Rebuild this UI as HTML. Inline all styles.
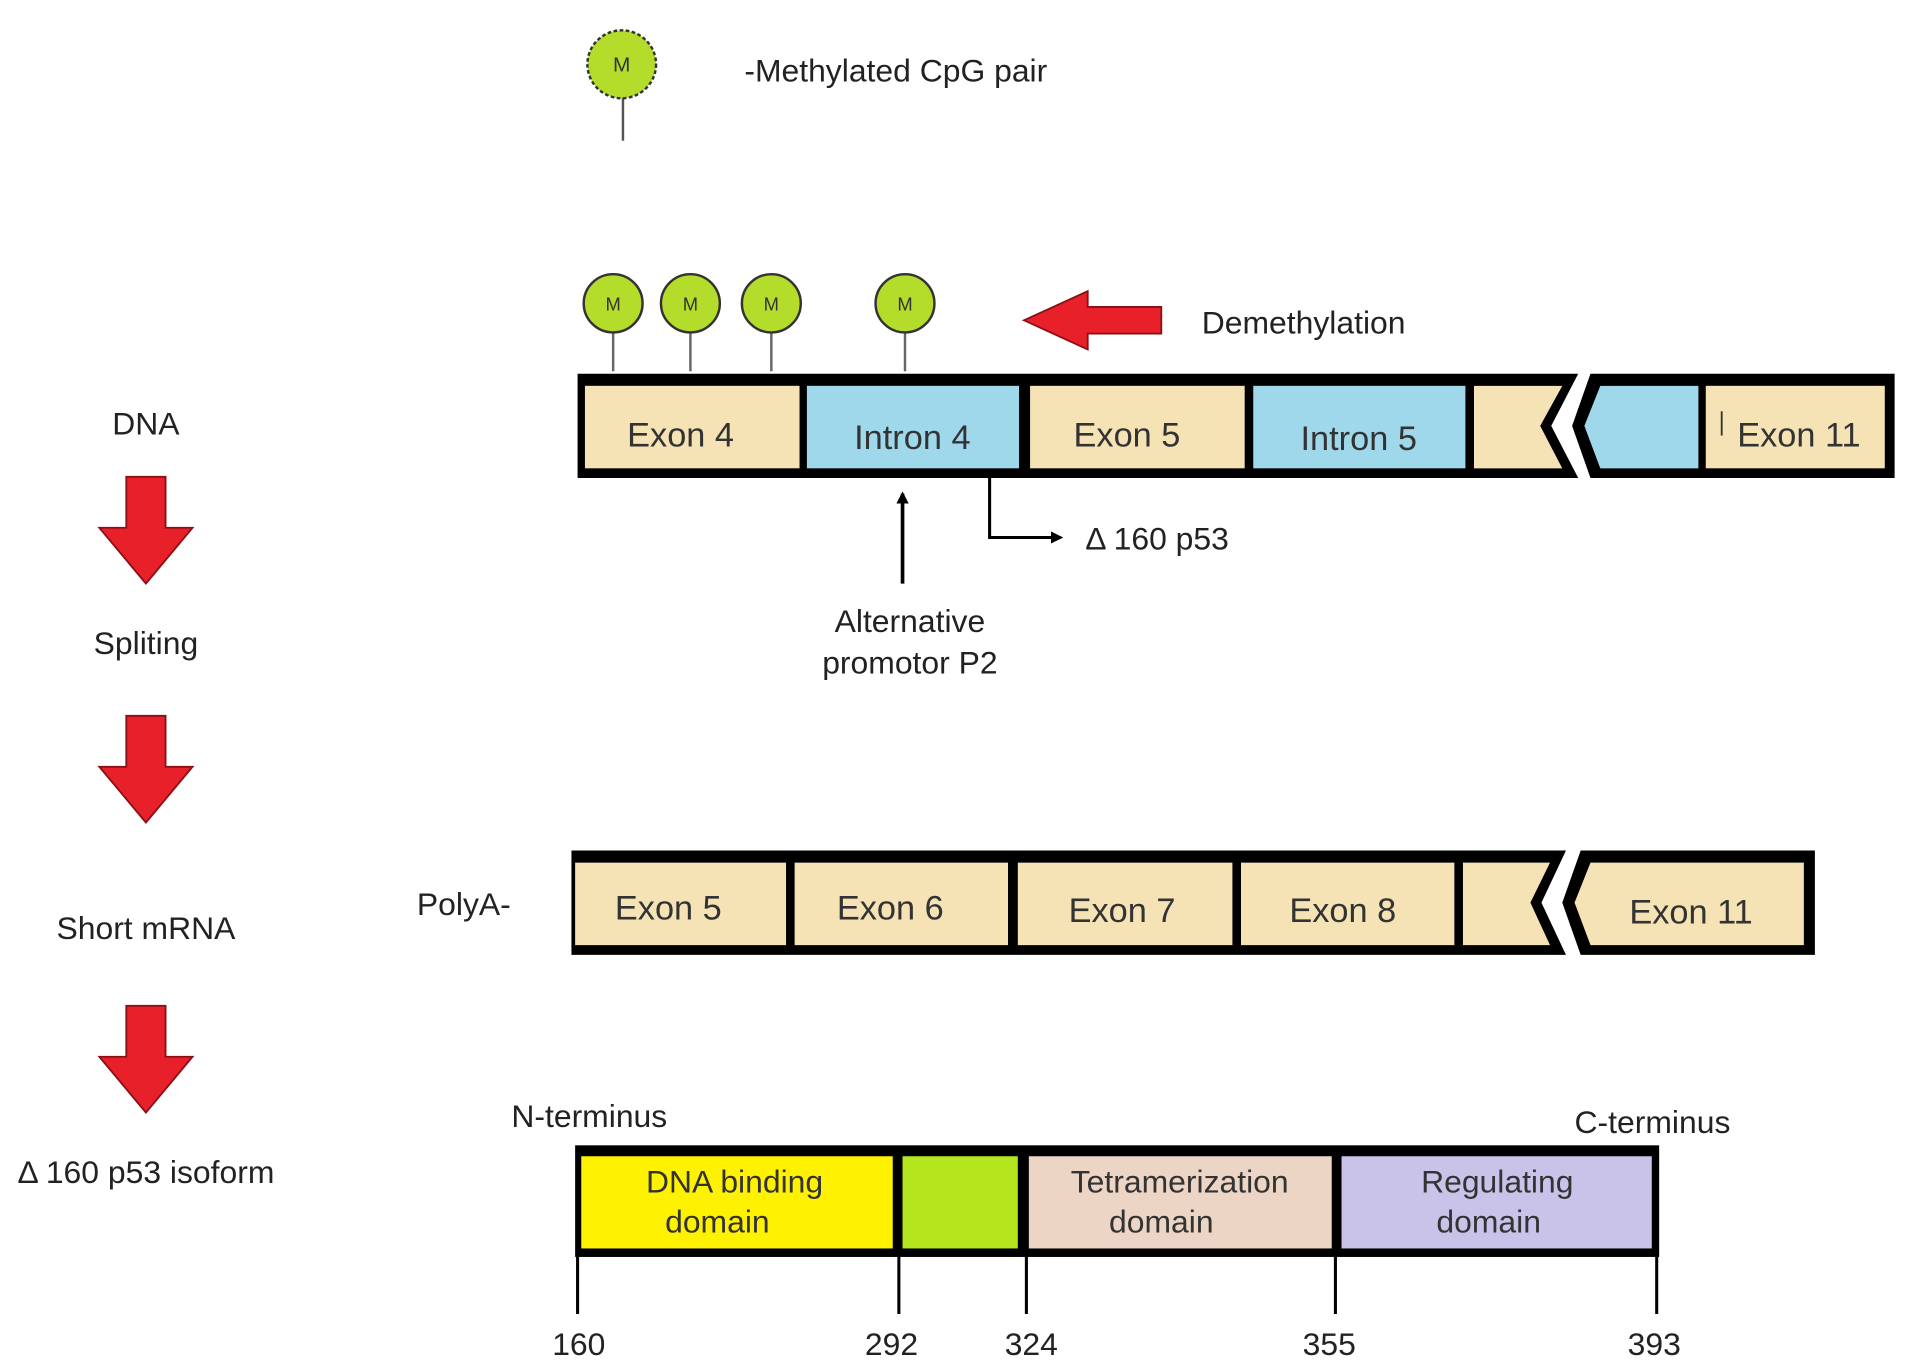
<!DOCTYPE html>
<html><head><meta charset="utf-8"><style>
html,body{margin:0;padding:0;background:#fff;}
svg{display:block;}
text{font-family:"Liberation Sans",sans-serif;}
</style></head><body>
<svg width="1913" height="1371" viewBox="0 0 1560 1130" preserveAspectRatio="none" xmlns="http://www.w3.org/2000/svg">
<defs>
<marker id="ah" markerWidth="10" markerHeight="10" refX="8" refY="5" orient="auto" markerUnits="userSpaceOnUse"><path d="M0,0 L10,5 L0,10 Z" fill="#000"/></marker>
<g id="dn"><path d="M-16,0 H16 V42 H38 L0,88 L-38,42 H-16 Z" fill="#e8202a" stroke="#8a1015" stroke-width="1.5"/></g>
</defs>
<g transform="translate(-3,3)">
<!-- legend -->
<line x1="511" y1="70" x2="511" y2="113" stroke="#555" stroke-width="2"/>
<circle cx="510" cy="50" r="28" fill="#b3dd2a" stroke="#333" stroke-width="2" stroke-dasharray="3 2"/>
<text x="510" y="56" font-size="17" text-anchor="middle" fill="#333">M</text>
<text x="610" y="64" font-size="26" fill="#222">-Methylated CpG pair</text>
<!-- M circles -->
<g stroke="#666" stroke-width="2"><line x1="503" y1="270" x2="503" y2="303"/><line x1="566" y1="270" x2="566" y2="303"/><line x1="632" y1="270" x2="632" y2="303"/><line x1="741" y1="270" x2="741" y2="303"/></g>
<g fill="#b3dd2a" stroke="#333" stroke-width="2"><circle cx="503" cy="247" r="24"/><circle cx="566" cy="247" r="24"/><circle cx="632" cy="247" r="24"/><circle cx="741" cy="247" r="24"/></g>
<g font-size="15" text-anchor="middle" fill="#333"><text x="503" y="253">M</text><text x="566" y="253">M</text><text x="632" y="253">M</text><text x="741" y="253">M</text></g>
<path d="M838,261 L890,237 V250 H950 V272 H890 V285 Z" fill="#e8202a" stroke="#8a1015" stroke-width="1.5"/>
<text x="983" y="272" font-size="26" fill="#222">Demethylation</text>
<!-- DNA bar -->
<path d="M474,305 H1290 L1268,348 L1290,391 H474 Z" fill="#000"/>
<path d="M1300,305 H1548 V391 H1300 L1285,348 Z" fill="#000"/>
<rect x="480" y="315" width="175" height="68" fill="#f5e3b5"/>
<rect x="661" y="315" width="173" height="68" fill="#9fd8ea"/>
<rect x="843" y="315" width="175" height="68" fill="#f5e3b5"/>
<rect x="1025" y="315" width="173" height="68" fill="#9fd8ea"/>
<path d="M1205,315 H1277 L1259,348 L1277,383 H1205 Z" fill="#f5e3b5"/>
<path d="M1308,315 H1388 V383 H1308 L1295,348 Z" fill="#9fd8ea"/>
<rect x="1394" y="315" width="146" height="68" fill="#f5e3b5"/>
<line x1="1407" y1="336" x2="1407" y2="356" stroke="#333" stroke-width="1.5"/>
<g font-size="28" text-anchor="middle" fill="#333">
<text x="558" y="365">Exon 4</text><text x="747" y="367">Intron 4</text><text x="922" y="365">Exon 5</text><text x="1111" y="368">Intron 5</text><text x="1470" y="365">Exon 11</text></g>
<!-- arrows under -->
<line x1="739" y1="478" x2="739" y2="404" stroke="#000" stroke-width="3" marker-end="url(#ah)"/>
<path d="M810,391 V440 H868" fill="none" stroke="#000" stroke-width="2.5" marker-end="url(#ah)"/>
<text x="888" y="450" font-size="26" fill="#222">Δ 160 p53</text>
<text x="745" y="518" font-size="26" text-anchor="middle" fill="#222">Alternative</text>
<text x="745" y="552" font-size="26" text-anchor="middle" fill="#222">promotor P2</text>
<!-- left column -->
<g font-size="26" text-anchor="middle" fill="#222">
<text x="122" y="355">DNA</text><text x="122" y="536">Spliting</text><text x="122" y="771">Short mRNA</text><text x="122" y="972">Δ 160 p53 isoform</text></g>
<use href="#dn" x="122" y="390"/><use href="#dn" x="122" y="587"/><use href="#dn" x="122" y="826"/>
<!-- mRNA -->
<text x="343" y="751" font-size="26" fill="#222">PolyA-</text>
<path d="M469,698 H1280 L1260,741 L1280,784 H469 Z" fill="#000"/>
<path d="M1292,698 H1483 V784 H1292 L1277,741 Z" fill="#000"/>
<rect x="472" y="708" width="172" height="68" fill="#f5e3b5"/>
<rect x="651" y="708" width="174" height="68" fill="#f5e3b5"/>
<rect x="833" y="708" width="175" height="68" fill="#f5e3b5"/>
<rect x="1015" y="708" width="174" height="68" fill="#f5e3b5"/>
<path d="M1196,708 H1267 L1251,741 L1267,776 H1196 Z" fill="#f5e3b5"/>
<path d="M1300,708 H1474 V776 H1300 L1287,741 Z" fill="#f5e3b5"/>
<g font-size="28" text-anchor="middle" fill="#333">
<text x="548" y="755">Exon 5</text><text x="729" y="755">Exon 6</text><text x="918" y="757">Exon 7</text><text x="1098" y="757">Exon 8</text><text x="1382" y="758">Exon 11</text></g>
<!-- protein -->
<text x="420" y="926" font-size="26" fill="#222">N-terminus</text>
<text x="1287" y="931" font-size="26" fill="#222">C-terminus</text>
<rect x="472" y="941" width="884" height="92" fill="#000"/>
<rect x="477" y="950" width="254" height="76" fill="#fff200"/>
<rect x="739" y="950" width="94" height="76" fill="#b5e61d"/>
<rect x="842" y="950" width="247" height="76" fill="#ecd5c5"/>
<rect x="1097" y="950" width="253" height="76" fill="#c9c3ea"/>
<g font-size="26" text-anchor="middle" fill="#333">
<text x="602" y="980">DNA binding</text><text x="588" y="1013">domain</text>
<text x="965" y="980">Tetramerization</text><text x="950" y="1013">domain</text>
<text x="1224" y="980">Regulating</text><text x="1217" y="1013">domain</text></g>
<g stroke="#000" stroke-width="2.5"><line x1="474" y1="1033" x2="474" y2="1080"/><line x1="736" y1="1033" x2="736" y2="1080"/><line x1="840" y1="1033" x2="840" y2="1080"/><line x1="1092" y1="1033" x2="1092" y2="1080"/><line x1="1354" y1="1033" x2="1354" y2="1080"/></g>
<g font-size="26" text-anchor="middle" fill="#222">
<text x="475" y="1114">160</text><text x="730" y="1114">292</text><text x="844" y="1114">324</text><text x="1087" y="1114">355</text><text x="1352" y="1114">393</text></g>
</g>
</svg>
</body></html>
